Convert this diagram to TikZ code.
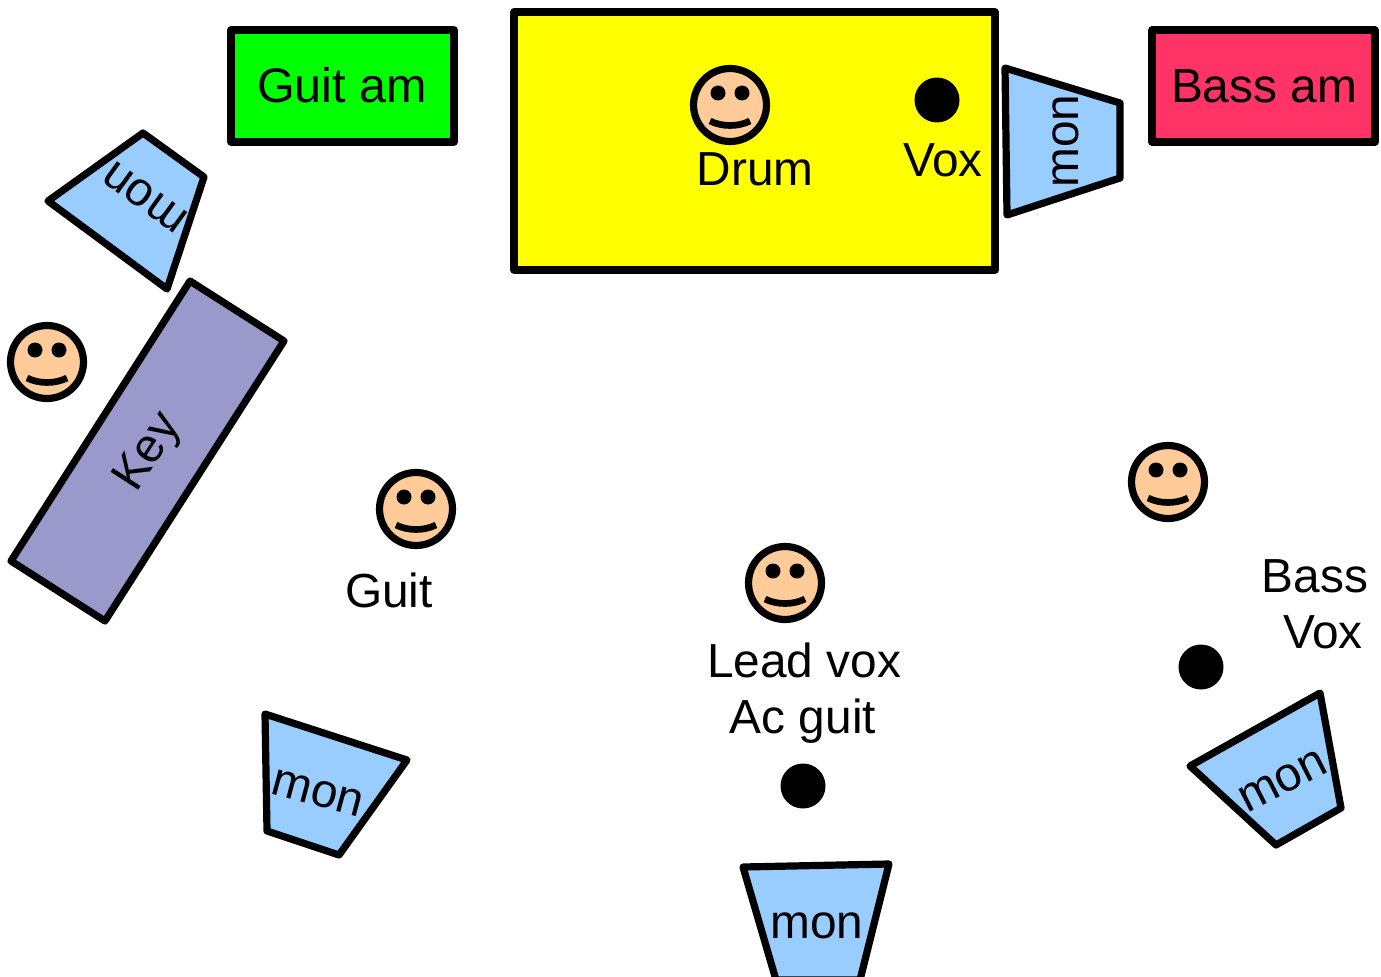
\documentclass[tikz,border=0pt]{standalone}
\usepackage{fontspec}
\setmainfont{Liberation Sans}
\usetikzlibrary{positioning,calc}
\definecolor{MonBlue}{RGB}{153,204,255}
\definecolor{KeyPurple}{RGB}{153,153,204}
\definecolor{AmpGreen}{RGB}{0,255,0}
\definecolor{AmpRed}{RGB}{255,51,102}
\definecolor{StageYellow}{RGB}{255,255,0}
\definecolor{FaceSkin}{RGB}{255,204,153}
\tikzset{
    gear/.style={draw=black, line width=4.1pt, line join=round},
    stagetext/.style={font=\fontsize{27.2}{32}\selectfont, inner sep=0pt, text=black},
    amptext/.style={font=\fontsize{27.6}{32}\selectfont, inner sep=0pt, text=black},
    micdot/.style={circle, fill=black, minimum size=0.9cm, inner sep=0pt},
    face/.style={circle, draw=black, fill=FaceSkin, line width=4.1pt, minimum size=1.46cm, inner sep=0pt}
}
% one smiling musician
\newcommand{\musician}[2]{
    \node[face] (#1) at (#2) {};
    \begin{scope}[shift={(#2)}]
        \fill (-12,-12) circle (7.5);
        \fill (12,-12) circle (7.5);
        \draw[line width=3.8pt] (-20,16) .. controls (-8,22) and (8,22) .. (20,16);
    \end{scope}
}
\begin{document}
\begin{tikzpicture}[x=0.02cm, y=-0.02cm]
        \useasboundingbox (0,0) rectangle (1381,976);

        % --- amps and drum riser ---
        \draw[gear, fill=AmpGreen] (231,30) rectangle (454,142);
        \node[amptext] (guitam) at (342,85) {Guit am};
        \draw[gear, fill=StageYellow] (514,12) rectangle (995,270);
        \draw[gear, fill=AmpRed] (1152,30) rectangle (1375,142);
        \node[stagetext] (bassam) at (1264,86) {Bass am};

        % --- keyboard ---
        \draw[gear, fill=KeyPurple] (190,281) -- (284,341) -- (105,621) -- (11,561) -- cycle;
        \node[stagetext, rotate=57] (key) at (149,453) {Key};

        % --- monitors ---
        \draw[gear, fill=MonBlue] (143,133) -- (204,177) -- (167,289) -- (48,201) -- cycle;
        \node[stagetext, rotate=144] (monkey) at (145,197) {mon};
        \draw[gear, fill=MonBlue] (1005,68) -- (1120,103) -- (1120,178) -- (1007,215) -- cycle;
        \node[stagetext, rotate=90] (mondrum) at (1066,141) {mon};
        \draw[gear, fill=MonBlue] (265,714) -- (407,760) -- (339,855) -- (267,831) -- cycle;
        \node[stagetext, rotate=-15] (monguit) at (318,793) {mon};
        \draw[gear, fill=MonBlue] (743,867) -- (889,864) -- (860,980) -- (776,980) -- cycle;
        \node[stagetext] (monlead) at (817,926) {mon};
        \draw[gear, fill=MonBlue] (1320,693) -- (1341,808) -- (1276,845) -- (1190,766) -- cycle;
        \node[stagetext, rotate=27] (monbass) at (1283,781) {mon};

        % --- musicians ---
        \musician{drummer}{730,105}
        \musician{keys}{47,362}
        \musician{guitarist}{416,509}
        \musician{bassist}{1168,482}
        \musician{leadsinger}{785,583}

        % --- vocal mics ---
        \node[micdot] (micdrum) at (937,100) {};
        \node[micdot] (micbass) at (1201,667) {};
        \node[micdot] (miclead) at (803,786) {};

        % --- labels ---
        \node[stagetext] (drumlabel) at (755,169) {Drum};
        \node[stagetext] (voxlabel) at (943,160) {Vox};
        \node[stagetext] (guitlabel) at (389,590) {Guit};
        \node[stagetext] (leadlabel) at (804,660) {Lead vox};
        \node[stagetext] (aclabel) at (803,721) {Ac guit};
        \node[stagetext] (basslabel) at (1315,576) {Bass};
        \node[stagetext] (bassvox) at (1323,632) {Vox};
\end{tikzpicture}
\end{document}
